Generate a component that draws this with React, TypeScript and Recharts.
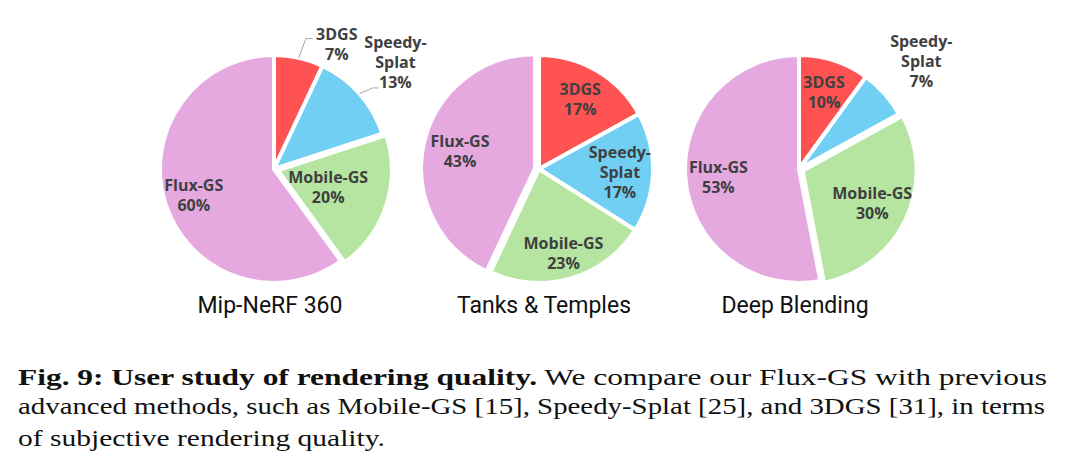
import { Pie, PieChart, Sector } from "recharts";

// user study shares, slice order clockwise from 12 o'clock
const methods = ["3DGS", "Speedy-Splat", "Mobile-GS", "Flux-GS"];
const datasets = ["Mip-NeRF 360", "Tanks & Temples", "Deep Blending"];
const mipNerf360 = [7, 13, 20, 60];
const tanksTemples = [17, 17, 23, 43];
const deepBlending = [10, 7, 30, 53];

const sliceColors = ["#FF5353", "#70CFF3", "#B6E5A1", "#E5A9E0"];

const labelFont = { fontFamily: "'Open Sans', sans-serif", fontSize: 16, fontWeight: 700 };
const captionFont = { fontFamily: "'Liberation Serif', serif", fontSize: 23 };
const RAD = Math.PI / 180;
const EXPLODE = 4;

type Outside = { r: number; shift?: number; leader?: [number, number, number] };
type PieLayout = {
  cx: number;
  titleX: number;
  explode: string;
  outside: Record<string, Outside>;
  inside: Record<string, number>;
};

const layouts: PieLayout[] = [
  {
    cx: 269,
    titleX: 270,
    explode: "Mobile-GS",
    outside: {
      "3DGS": { r: 1.23, shift: 14, leader: [-31, -5, -24] },
      "Speedy-Splat": { r: 1.42, leader: [-23, 26, -17] },
    },
    inside: { "Mobile-GS": 0.5, "Flux-GS": 0.74 },
  },
  { cx: 534, titleX: 544, explode: "Flux-GS", outside: {}, inside: { "Mobile-GS": 0.77 } },
  { cx: 794, titleX: 795, explode: "Mobile-GS", outside: { "Speedy-Splat": { r: 1.43 } }, inside: {} },
];

const splitName = (name: string) =>
  name === "Speedy-Splat" ? ["Speedy-", "Splat"] : [name];

// pulls one slice a few pixels out along its bisector
function makeShape(layout: PieLayout) {
  return (props: any) => {
    const { cx, cy, midAngle, name } = props;
    const d = name === layout.explode ? EXPLODE : 0;
    return (
      <Sector
        {...props}
        cx={cx + d * Math.cos(-midAngle * RAD)}
        cy={cy + d * Math.sin(-midAngle * RAD)}
      />
    );
  };
}

function makeLabel(layout: PieLayout) {
  return (props: any) => {
    const { cx, cy, midAngle, outerRadius, name, value } = props;
    const out = layout.outside[name];
    const factor = out ? out.r : layout.inside[name] ?? 0.71;
    const angle = midAngle - (out?.shift ?? 0);
    const x = cx + outerRadius * factor * Math.cos(-angle * RAD);
    const y = cy + outerRadius * factor * Math.sin(-angle * RAD);
    const lines = [...splitName(name), `${value}%`];
    let leader = null;
    if (out?.leader) {
      const ax = cx + outerRadius * Math.cos(-midAngle * RAD);
      const ay = cy + outerRadius * Math.sin(-midAngle * RAD);
      const [ex, ey, tx] = out.leader;
      leader = (
        <polyline
          points={`${ax},${ay} ${x + ex},${y + ey} ${x + tx},${y + ey}`}
          fill="none"
          stroke="#A6A6A6"
          strokeWidth={1}
        />
      );
    }
    return (
      <g>
        {leader}
        <text {...labelFont} fill="#404040" textAnchor="middle">
          {lines.map((line, i) => (
            <tspan key={i} x={x} y={y + (i - (lines.length - 1) / 2) * 20} dominantBaseline="central">
              {line}
            </tspan>
          ))}
        </text>
      </g>
    );
  };
}

const series = [mipNerf360, tanksTemples, deepBlending].map((values) =>
  methods.map((name, i) => ({ name, value: values[i], fill: sliceColors[i] }))
);

export default function App() {
  return (
    <div style={{ position: "relative", width: 1068, height: 476, background: "#fff" }}>
      <style>{"body{margin:0}"}</style>
      <PieChart width={1068} height={330}>
        {series.map((data, k) => (
          <Pie
            key={datasets[k]}
            data={data}
            dataKey="value"
            nameKey="name"
            cx={layouts[k].cx}
            cy={164}
            outerRadius={114}
            startAngle={90}
            endAngle={-270}
            stroke="#fff"
            strokeWidth={4}
            shape={makeShape(layouts[k])}
            label={makeLabel(layouts[k])}
            labelLine={false}
            isAnimationActive={false}
          />
        ))}
      </PieChart>
      <svg width={1068} height={476} style={{ position: "absolute", left: 0, top: 0, pointerEvents: "none" }}>
        {datasets.map((title, k) => (
          <text
            key={title}
            x={layouts[k].titleX}
            y={313}
            textAnchor="middle"
            fontFamily="Roboto, sans-serif"
            fontSize={23}
            fill="#111"
          >
            {title}
          </text>
        ))}
        {/* caption lines stretched to the column width */}
        <g {...captionFont} fill="#111">
          <text x={18} y={385} textLength={1029} lengthAdjust="spacingAndGlyphs">
            <tspan fontWeight={700}>Fig. 9: User study of rendering quality.</tspan> We compare our Flux-GS with
            previous
          </text>
          <text x={18} y={414} textLength={1027} lengthAdjust="spacingAndGlyphs">
            advanced methods, such as Mobile-GS [15], Speedy-Splat [25], and 3DGS [31], in terms
          </text>
          <text x={18} y={446} textLength={367} lengthAdjust="spacingAndGlyphs">
            of subjective rendering quality.
          </text>
        </g>
      </svg>
    </div>
  );
}
